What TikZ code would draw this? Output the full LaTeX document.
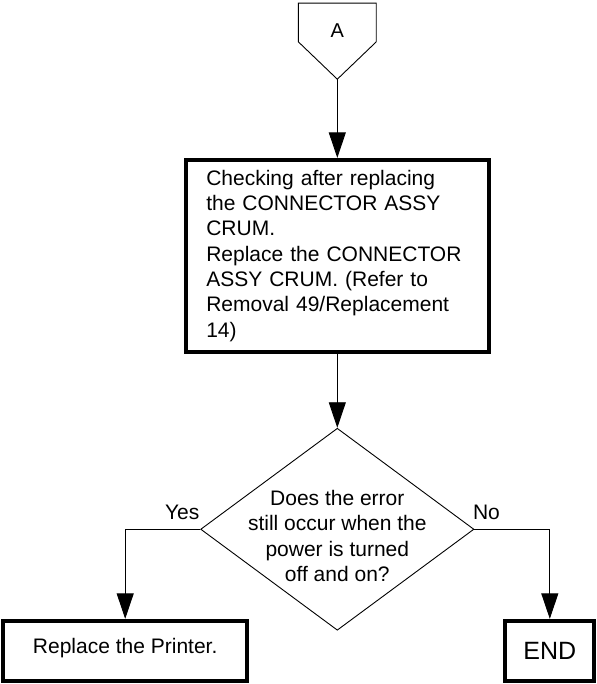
\documentclass[tikz,border=0pt]{standalone}
\usepackage{fontspec}
\setmainfont{Liberation Sans}
\usetikzlibrary{arrows.meta, positioning, calc, shapes.geometric}

\begin{document}
\begin{tikzpicture}[
  x=1pt, y=1pt,
  font=\fontsize{21pt}{25.3pt}\selectfont,
  conn/.style={rectangle, minimum width=77.4pt, minimum height=38.4pt,
               inner sep=0pt, text height=30.4pt, text depth=0pt,
               font=\fontsize{20pt}{24pt}\selectfont},
  box/.style={rectangle, draw, line width=4pt, align=left, text width=262pt,
              inner xsep=20.5pt, minimum height=191.6pt},
  dec/.style={diamond, draw, line width=0.9pt, minimum width=273.3pt,
              minimum height=202pt, inner sep=0pt},
  term/.style={rectangle, draw, line width=4pt, align=center,
               minimum height=59.7pt},
  arr/.style={-{Triangle[length=25.5pt, width=17pt]}, line width=0.9pt}]
  \useasboundingbox (0,0) rectangle (596,-684);
  \node[conn] (conA) at (337.3,-22.5) {A};
  \coordinate (atip) at ($(conA.south)+(0,-37.3)$);
  \draw[line width=0.9pt] (conA.north west) -- (conA.north east) -- (conA.south east)
    -- (atip) -- (conA.south west) -- cycle;
  \node[box, below=78.7pt of atip] (chk) {Checking after replacing\\the CONNECTOR ASSY\\CRUM.\\Replace the CONNECTOR\\ASSY CRUM. (Refer to\\Removal 49/Replacement\\14)};
  \node[dec, below=74.3pt of chk] (q) {};
  \node[align=center, yshift=-6.7pt] (qtxt) at (q) {Does the error\\still occur when the\\power is turned\\off and on?};
  \node[term, minimum width=244pt, text depth=10.4pt,
        below=89.6pt of q.west, xshift=-75pt] (rep) {Replace the Printer.};
  \node[term, minimum width=89pt, font=\fontsize{25pt}{30pt}\selectfont,
        below=89.6pt of q.east, xshift=75.4pt] (fin) {END};
  \draw[arr] (atip) -- (chk);
  \draw[arr] (chk) -- (q);
  \draw[arr] (q.west) -| node[pos=0.12, above=6pt] {Yes} (rep.north);
  \draw[arr] (q.east) -| node[pos=0.08, above=6pt] {No} (fin.north);
\end{tikzpicture}
\end{document}
